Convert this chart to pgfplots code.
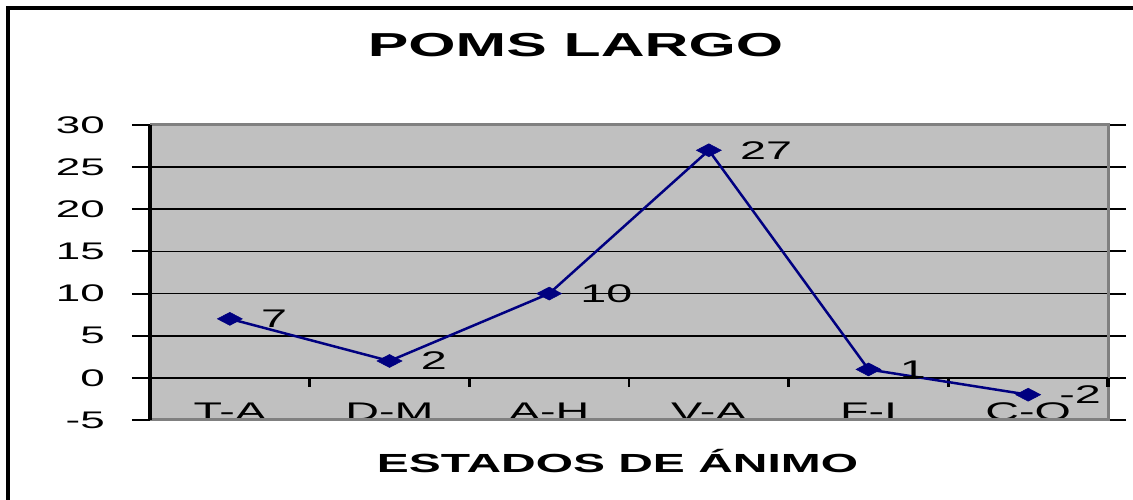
\documentclass[border=0pt]{standalone}
\usepackage{pgfplots}
\pgfplotsset{compat=1.18}
\usepackage{graphicx}
\usepackage{fontspec}
\setmainfont{Liberation Sans}
\definecolor{plotgray}{HTML}{C0C0C0}
\definecolor{framegray}{HTML}{808080}
\definecolor{navyblue}{HTML}{000080}
\newcommand{\sx}[1]{\scalebox{1.83}[1]{#1}}
\begin{document}
\begin{tikzpicture}[x=1bp,y=1bp]
\useasboundingbox (0,0) rectangle (1133,500);
\clip (0,0) rectangle (1133,500);
\draw[black, line width=3.5bp] (8,492) rectangle (1200,-50);
\node[anchor=base, inner sep=0pt, font=\fontsize{33.2bp}{40bp}\selectfont\bfseries] at (575.5,443) {\sx{POMS LARGO}};
\node[anchor=base, inner sep=0pt, font=\fontsize{26.2bp}{32bp}\selectfont\bfseries] at (617.5,27) {\sx{ESTADOS DE ÁNIMO}};
\begin{axis}[
  at={(150bp,80bp)}, anchor=south west,
  scale only axis, width=958bp, height=295bp,
  xmin=0, xmax=6, ymin=-5, ymax=30,
  axis background/.style={fill=plotgray},
  axis line style={draw=none},
  clip=false,
  ytick={-5,0,5,10,15,20,25,30},
  ymajorgrids,
  grid style={black, line width=1.8bp},
  ytick style={black, line width=2bp},
  ytick align=outside,
  major tick length=18bp,
  yticklabel={\sx{\pgfmathprintnumber[assume math mode=true]{\tick}}},
  yticklabel style={anchor=east, inner sep=0pt, xshift=-27bp, font=\fontsize{24bp}{28bp}\selectfont},
  xtick={0.5,1.5,2.5,3.5,4.5,5.5},
  xticklabels={\sx{T-A},\sx{D-M},\sx{A-H},\sx{V-A},\sx{F-I},\sx{C-O}},
  xtick style={draw=none},
  xticklabel style={anchor=base, inner sep=0pt, yshift=-1bp, font=\fontsize{25.5bp}{30bp}\selectfont},
]
\draw[framegray, line width=3bp] (rel axis cs:0,1) -- (rel axis cs:1,1) -- (rel axis cs:1,0) -- (rel axis cs:0,0);
\draw[black, line width=3.5bp] (rel axis cs:0,0) -- (rel axis cs:0,1);
\draw[black, line width=2.5bp] (axis cs:0,0) -- (axis cs:6,0);
\draw[black, line width=2.5bp] (axis cs:1,0) -- (axis cs:1,-1.07);
\draw[black, line width=2.5bp] (axis cs:2,0) -- (axis cs:2,-1.07);
\draw[black, line width=2.5bp] (axis cs:3,0) -- (axis cs:3,-1.07);
\draw[black, line width=2.5bp] (axis cs:4,0) -- (axis cs:4,-1.07);
\draw[black, line width=2.5bp] (axis cs:5,0) -- (axis cs:5,-1.07);
\draw[black, line width=3.5bp] (axis cs:6,0) -- (axis cs:6,-1.07);
\addplot[navyblue, line width=2.5bp, mark=diamond*, mark size=6.5bp,
  mark options={xscale=2.56, solid, fill=navyblue, line width=0.5bp},
  nodes near coords={\sx{\pgfmathprintnumber[assume math mode=true]{\pgfplotspointmeta}}},
  every node near coord/.append style={anchor=west, inner sep=0pt, xshift=31bp, font=\fontsize{25.5bp}{30bp}\selectfont, text=black}]
coordinates {(0.5,7) (1.5,2) (2.5,10) (3.5,27) (4.5,1) (5.5,-2)};
\end{axis}
\end{tikzpicture}
\end{document}
